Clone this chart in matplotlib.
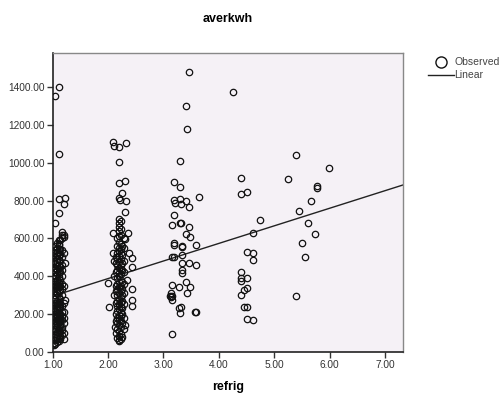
import matplotlib
matplotlib.use('Agg')
import matplotlib.pyplot as plt
from matplotlib.lines import Line2D

plt.rcParams['font.family'] = ['Liberation Sans', 'DejaVu Sans']

# refrig / averkwh observations, grouped by refrigerator count
g1_x = [1.11, 1.05, 1.11, 1.11, 1.22, 1.21, 1.11, 1.05, 1.16, 1.17, 1.20, 1.14, 1.12, 1.22, 1.22, 1.21, 1.03]
g1_y = [1400, 1355, 1048, 807, 814, 780, 736, 680, 635, 618, 609, 591, 570, 470, 273, 65, 35]

g1_core = {
    1.02: [45, 80, 120, 150, 190, 230, 280, 320, 360, 390, 430, 480, 520],
    1.05: [40, 60, 95, 110, 140, 165, 180, 200, 215, 245, 260, 300, 335, 350, 375, 400, 420, 445, 470, 500, 540, 560],
    1.08: [50, 70, 90, 105, 130, 145, 160, 175, 195, 210, 225, 240, 255, 270, 310, 330, 345, 365, 380, 410, 435, 455,
           475, 490, 510, 530, 550, 575],
    1.11: [55, 75, 100, 115, 125, 155, 170, 185, 205, 220, 235, 250, 265, 290, 315, 340, 355, 370, 395, 415, 440, 460,
           485, 505, 525, 545, 565, 590],
    1.14: [65, 85, 110, 135, 160, 180, 200, 230, 250, 280, 325, 350, 380, 420, 450, 480, 515, 545],
    1.17: [90, 130, 170, 210, 240, 300, 360, 400, 460, 500, 600, 115, 190, 330, 430, 540],
    1.20: [150, 210, 260, 620, 100, 180, 350, 520],
}

g2_x = [2.09, 2.10, 2.20, 2.32, 2.20, 2.20, 2.31, 2.26, 2.20, 2.21, 2.32, 2.31, 2.20,
        2.09, 2.36, 2.31, 2.09, 2.43, 2.43, 2.00, 2.02, 2.43, 2.43, 2.43, 2.12, 2.20, 2.31,
        2.10, 2.10, 2.38, 2.10, 2.35]
g2_y = [1108, 1089, 1085, 1103, 1004, 891, 905, 842, 812, 803, 798, 738, 702,
        627, 627, 595, 521, 494, 450, 365, 238, 330, 274, 240, 132, 62, 141,
        480, 400, 520, 300, 380]

g2_core = {
    2.14: [100, 160, 200, 260, 320, 350, 420, 470, 500],
    2.17: [70, 120, 150, 180, 215, 240, 270, 300, 330, 360, 390, 430, 460, 490, 520, 560, 600],
    2.20: [55, 85, 110, 140, 170, 195, 225, 250, 280, 310, 340, 370, 400, 415, 445, 475, 505, 535, 550, 580, 610,
           640, 660, 680],
    2.23: [65, 95, 130, 160, 190, 210, 235, 265, 290, 320, 350, 380, 410, 440, 460, 490, 520, 545, 570, 620, 650, 690],
    2.26: [80, 150, 200, 230, 270, 300, 330, 370, 430, 470, 510, 560],
    2.29: [120, 180, 250, 310, 360, 420, 480, 550, 600],
}

g3_x = [3.46, 3.41, 3.42, 3.30, 3.19, 3.30, 3.19, 3.20, 3.30, 3.31, 3.41, 3.47, 3.64,
        3.19, 3.15, 3.30, 3.32, 3.47, 3.41, 3.48, 3.59, 3.19, 3.19, 3.34, 3.34, 3.15, 3.19,
        3.34, 3.34, 3.47, 3.59, 3.34, 3.34, 3.15, 3.41, 3.29, 3.48, 3.42, 3.12, 3.13, 3.15,
        3.16, 3.13, 3.32, 3.29, 3.30, 3.57, 3.59, 3.15]
g3_y = [1481, 1302, 1177, 1008, 900, 874, 803, 787, 808, 780, 798, 768, 821,
        724, 671, 683, 683, 659, 623, 609, 565, 574, 563, 560, 553, 503, 503,
        512, 468, 470, 457, 433, 418, 353, 371, 341, 341, 309, 297, 287, 276,
        294, 308, 238, 230, 203, 212, 208, 92]

g4_x = [4.25, 4.40, 4.40, 4.51, 4.74, 4.62, 4.51, 4.62, 4.62, 4.40, 4.40, 4.40, 4.51,
        4.51, 4.45, 4.40, 4.45, 4.51, 4.51, 4.62]
g4_y = [1376, 921, 835, 847, 697, 627, 526, 521, 485, 420, 389, 374, 390,
        336, 327, 302, 238, 238, 171, 169]

g5_x = [5.40, 5.99, 5.25, 5.77, 5.77, 5.66, 5.45, 5.61, 5.73, 5.50, 5.55, 5.40]
g5_y = [1041, 974, 914, 879, 865, 798, 745, 680, 621, 574, 500, 295]

# linear fit (intercept, slope)
fit_b0 = 201.0
fit_b1 = 93.0

xs = list(g1_x) + list(g2_x) + list(g3_x) + list(g4_x) + list(g5_x)
ys = list(g1_y) + list(g2_y) + list(g3_y) + list(g4_y) + list(g5_y)
for core in (g1_core, g2_core):
    for xv, yl in core.items():
        xs += [xv] * len(yl)
        ys += yl

fig = plt.figure(figsize=(5.02, 3.94), dpi=100)
ax = fig.add_axes([0.105, 0.1074, 0.697, 0.7581])
ax.set_facecolor('#F5F1F6')

xmin, xmax = 1.0, 7.32
ax.plot([xmin, xmax], [fit_b0 + fit_b1 * xmin, fit_b0 + fit_b1 * xmax], color='#222222', lw=1.0, zorder=2)
ax.plot(xs, ys, linestyle='none', marker='o', ms=4.6, mfc='none', mec='#111111', mew=0.9, zorder=3)

ax.set_xlim(xmin, xmax)
ax.set_ylim(0, 1581)
ax.set_xticks([1, 2, 3, 4, 5, 6, 7])
ax.set_yticks([0, 200, 400, 600, 800, 1000, 1200, 1400])
ax.xaxis.set_major_formatter(matplotlib.ticker.FormatStrFormatter('%.2f'))
ax.yaxis.set_major_formatter(matplotlib.ticker.FormatStrFormatter('%.2f'))
ax.tick_params(direction='out', length=4, width=1, labelsize=7.3, colors='#333333', pad=2)

for s in ('left', 'bottom'):
    ax.spines[s].set_color('#222222')
    ax.spines[s].set_linewidth(1.2)
for s in ('top', 'right'):
    ax.spines[s].set_color('#888888')
    ax.spines[s].set_linewidth(1.0)

ax.set_title('averkwh', fontsize=9, fontweight='bold', pad=22)
ax.set_xlabel('refrig', fontsize=9, fontweight='bold', labelpad=8)

handles = [Line2D([], [], linestyle='none', marker='o', ms=8, mfc='none', mec='#111111', mew=1.0),
           Line2D([], [], color='#222222', lw=1.0)]
fig.legend(handles, ['Observed', 'Linear'], loc='upper left', bbox_to_anchor=(0.845, 0.865),
           frameon=False, fontsize=7.5, handlelength=2.5, handletextpad=0.0, labelspacing=0.3,
           borderaxespad=0, labelcolor='#444444')

fig.savefig('out.png', dpi=100)
